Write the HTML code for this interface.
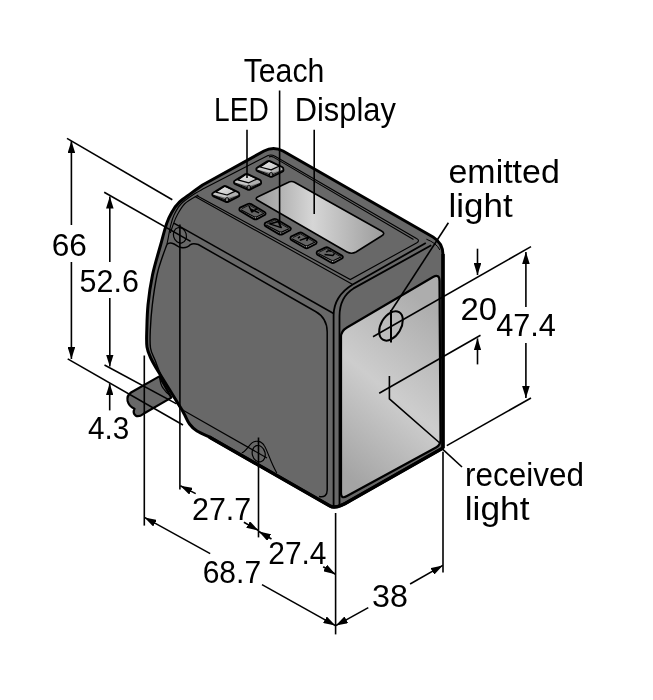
<!DOCTYPE html>
<html><head><meta charset="utf-8">
<style>
html,body{margin:0;padding:0;background:#fff;}
svg{display:block;will-change:transform;}
text{font-family:"Liberation Sans",sans-serif;fill:#000;}
</style></head>
<body>
<svg width="653" height="700" viewBox="0 0 653 700">
<defs>
  <linearGradient id="panel" gradientUnits="userSpaceOnUse" x1="330" y1="462" x2="446" y2="320">
    <stop offset="0" stop-color="#a4a4a4"/>
    <stop offset="0.5" stop-color="#cdcdcd"/>
    <stop offset="1" stop-color="#adadad"/>
  </linearGradient>
  <linearGradient id="disp" gradientUnits="userSpaceOnUse" x1="256" y1="0" x2="385" y2="0">
    <stop offset="0" stop-color="#999"/>
    <stop offset="0.44" stop-color="#d6d6d6"/>
    <stop offset="1" stop-color="#9b9b9b"/>
  </linearGradient>
  <linearGradient id="key" x1="0" y1="0" x2="1" y2="1">
    <stop offset="0" stop-color="#eeeeee"/>
    <stop offset="1" stop-color="#bdbdbd"/>
  </linearGradient>
  <marker id="ah" viewBox="0 0 12 7.6" refX="12" refY="3.8" markerWidth="12" markerHeight="7.6" markerUnits="userSpaceOnUse" orient="auto">
    <path d="M0,0 L12,3.8 L0,7.6 Z" fill="#000"/>
  </marker>
  <g id="led">
    <path d="M0,0.9 Q-0.3,-0.3 1,-1 L11,-7.2 Q12.6,-8.1 14.2,-7.3 L25.8,-1.6 Q27.2,-0.8 27.1,0.6 L27.1,1.9 Q27,2.6 26,3.1 L16.4,7.9 Q14.8,8.7 13.2,7.9 L1.3,2.7 Q0,2.1 0,0.9 Z" fill="#7a7a7a"/>
    <path d="M0.6,-0.6 L3.8,-1.6 L14.8,1.3 L14.8,4.3 L0.8,0.9 Z" fill="#c6c6c6"/>
    <path d="M14.8,1.3 L23.2,-2.6 L26.6,-0.9 L26.8,1.1 L14.8,4.3 Z" fill="#b0b0b0"/>
    <path d="M3.8,-1.6 L12.6,-7.4 L23.2,-2.6 L14.8,1.3 Z" fill="url(#key)" stroke="#000" stroke-width="1.2" stroke-linejoin="round"/>
    <path d="M1,1.5 L13.2,6.2 M16.4,6.2 L26.4,1.8 M13.2,4.6 Q14.8,3 16.4,4.6 L16.4,8.2 M13.2,4.6 L13.2,8.1" fill="none" stroke="#000" stroke-width="0.9"/>
    <path d="M0,0.9 Q-0.3,-0.3 1,-1 L11,-7.2 Q12.6,-8.1 14.2,-7.3 L25.8,-1.6 Q27.2,-0.8 27.1,0.6 L27.1,1.9 Q27,2.6 26,3.1 L16.4,7.9 Q14.8,8.7 13.2,7.9 L1.3,2.7 Q0,2.1 0,0.9 Z" fill="none" stroke="#000" stroke-width="1.8"/>
  </g>
  <g id="tb">
    <path d="M0.6,-1.6 L8.4,-5.2 Q10.1,-6 11.8,-5.1 L25.2,2.8 Q27,4 25.6,5.6 L18,9.7 Q16.1,10.8 14.2,9.7 L0.8,1.9 Q-0.8,0.6 0.6,-1.6 Z" fill="#8a8a8a"/>
    <path d="M0.6,-1.6 L8.4,-5.2 Q10.1,-6 11.8,-5.1 L25.2,2.8 Q26,3.3 24.6,4.2 L16,8.2 L1.4,0.4 Z" fill="#656565"/>
    <path d="M2.6,-0.6 L9.9,-4.2 L23.4,3.6" fill="none" stroke="#000" stroke-width="0.8"/>
    <path d="M1.4,0.6 L16,8.2 L24.8,4" fill="none" stroke="#000" stroke-width="1.1"/>
    <path d="M14.9,8 Q16,7.2 17.1,8 L17.1,10 L14.9,10 Z" fill="#b8b8b8" stroke="#000" stroke-width="0.8"/>
    <path d="M0.6,-1.6 L8.4,-5.2 Q10.1,-6 11.8,-5.1 L25.2,2.8 Q27,4 25.6,5.6 L18,9.7 Q16.1,10.8 14.2,9.7 L0.8,1.9 Q-0.8,0.6 0.6,-1.6 Z" fill="none" stroke="#000" stroke-width="1.8"/>
  </g>
</defs>

<!-- body silhouette -->
<path d="M264,151 Q273.5,146 283,151 L433,237 Q443,243 443,255 L443,448 L350,500.7 Q336,509.5 330,506 L209.2,436.9 C207.2,435.9 200.3,433.1 197.0,431.0 C193.7,428.9 191.6,426.8 189.5,424.0 C187.4,421.2 186.2,417.6 184.5,414.5 C182.8,411.4 183.6,412.5 179.3,405.5 C175.0,398.5 163.6,380.3 158.9,372.5 C154.2,364.7 153.0,362.8 151.0,358.5 C149.0,354.2 147.7,351.8 147.0,347.0 C146.3,342.2 146.6,337.0 146.8,330.0 C147.0,323.0 147.1,314.2 148.0,305.0 C148.9,295.8 150.4,285.0 152.5,275.0 C154.6,265.0 158.2,253.6 160.6,245.0 C162.9,236.4 164.8,229.0 166.6,223.6 C168.4,218.2 169.6,216.0 171.7,212.4 C173.8,208.8 176.2,205.3 179.4,202.2 C182.6,199.1 186.7,196.5 190.6,193.6 C194.5,190.7 200.6,186.4 202.6,185.0 L264,151 Z" fill="#686868"/>

<!-- right face light panel -->
<path d="M341,337 Q341,331 347,327.5 L433,277 Q439.5,273.5 439.5,281 L440.5,440 Q440.5,445 436,447.5 L347,496 Q341,499.5 341,493 Z" fill="url(#panel)" stroke="#000" stroke-width="2.2"/>

<!-- display -->
<path d="M258.5,196.5 Q254,198.5 258,200.5 L347,252 Q351.5,254.5 356,252 L381.5,236 Q386,233.5 381.5,231 L295,182.5 Q291.5,180.5 288,182.5 Z" fill="url(#disp)" stroke="#000" stroke-width="1.6"/>

<g fill="none" stroke="#000">
  <path d="M416.5,238.6 Q420.5,240.6 416.5,243 L350.3,279.5 L197,195.7 M416.5,238.6 L275,156.3 Q271.5,154.3 268,155.5 L204.3,188.3 C202.3,189.5 196.2,192.6 192.3,195.2 C188.4,197.8 184.1,200.7 181.0,204.0 C177.9,207.3 175.8,211.3 174.0,215.0 C172.2,218.7 171.4,222.7 170.5,226.2 C169.6,229.7 169.2,232.9 168.6,236.0 C168.0,239.1 167.2,243.1 166.9,244.5" stroke-width="1.1"/>
  <path d="M198.3,195.0 C196.1,196.4 188.6,200.1 185.0,203.5 C181.4,206.9 178.9,212.1 177.0,215.5 C175.1,218.9 174.5,221.1 173.4,224.0 C172.3,226.9 170.8,231.5 170.3,233.0" stroke-width="1.1"/>
  <path d="M269,157 Q271,155.8 273,156.9 L413.5,239.5 M352.3,284.2 L195,196.5" stroke-width="1.1"/>
    <!-- top face front-right edges -->
  <path d="M425.8,243 L352.3,284.7 Q334,296 333.6,315 L333.6,506" stroke-width="1.8"/>
  <path d="M431.3,245.3 L353.5,288.4 Q339.6,297 339.5,316 L339.5,506" stroke-width="1.8"/>
  <path d="M426.4,239.2 Q436.2,242.9 439.9,250" stroke-width="1"/>
  <!-- crease top-front -->
  <path d="M173.8,223.1 L333.6,313.5" stroke-width="1.5"/>
  <!-- front panel -->
  <path d="M166.9,244.5 C166.1,246.8 163.7,252.9 162.0,258.0 C160.3,263.1 158.6,267.2 157.0,275.0 C155.4,282.8 153.4,295.8 152.3,305.0 C151.2,314.2 150.6,322.8 150.3,330.0 C150.0,337.2 149.7,343.0 150.5,348.0 C151.3,353.0 153.2,355.5 155.0,360.0 C156.8,364.5 158.2,369.3 161.0,375.0 C163.8,380.7 168.8,388.4 172.0,394.0 C175.2,399.6 179.1,406.3 180.5,408.8" stroke-width="1.4"/>
  <path d="M166.9,244.5 C168,243.2 170,242.8 172,243.2 C176,244 177,247 181,247.6 C185,248.2 188,247.5 190.5,244.6 C192,243.5 195,243.4 198.3,244.5 L315.5,311.5 Q327.2,318 327.2,332 L327.2,490 Q327.2,498 319,496.5" stroke-width="1.5"/>
  <path d="M180.5,408.8 L267,458" stroke-width="1.1"/>
  <path d="M241.8,452.8 C246,451.5 249,445 252.3,442.6 C255.5,440.3 261.5,440.5 264.5,446 C268,452 270.5,462 276.8,473" stroke-width="1.1"/>
  <!-- body outer outline -->
  <path d="M264,151 Q273.5,146 283,151 L433,237 Q443,243 443,255 L443,448 L350,500.7 Q336,509.5 330,506 L209.2,436.9 C207.2,435.9 200.3,433.1 197.0,431.0 C193.7,428.9 191.6,426.8 189.5,424.0 C187.4,421.2 186.2,417.6 184.5,414.5 C182.8,411.4 183.6,412.5 179.3,405.5 C175.0,398.5 163.6,380.3 158.9,372.5 C154.2,364.7 153.0,362.8 151.0,358.5 C149.0,354.2 147.7,351.8 147.0,347.0 C146.3,342.2 146.6,337.0 146.8,330.0 C147.0,323.0 147.1,314.2 148.0,305.0 C148.9,295.8 150.4,285.0 152.5,275.0 C154.6,265.0 158.2,253.6 160.6,245.0 C162.9,236.4 164.8,229.0 166.6,223.6 C168.4,218.2 169.6,216.0 171.7,212.4 C173.8,208.8 176.2,205.3 179.4,202.2 C182.6,199.1 186.7,196.5 190.6,193.6 C194.5,190.7 200.6,186.4 202.6,185.0 L264,151 Z" stroke-width="3" stroke-linejoin="round"/>
  <path d="M443,448 L350,500.7 Q336,509.5 330,506 L209.2,436.9" stroke-width="3.4"/>
  <path d="M443,254 L443,448" stroke-width="3.4"/>
</g>

<!-- LED keys -->
<use href="#led" x="212.2" y="193.7"/>
<use href="#led" x="234.0" y="181.5"/>
<use href="#led" x="256.3" y="168.6"/>
<!-- teach buttons -->
<use href="#tb" x="239.4" y="209.2"/>
<use href="#tb" x="264.7" y="224.4"/>
<use href="#tb" x="290.5" y="238.1"/>
<use href="#tb" x="316.7" y="252.8"/>
<g fill="none" stroke="#000" stroke-width="1.5" stroke-linejoin="round">
  <path d="M249,206 L251.8,212 L257.3,208.7 M250.9,209.2 L259.1,212.9"/>
  <path d="M269.7,223.9 L278.4,221.6 L281.2,227.6 Z"/>
  <path d="M297.9,238.1 L300.1,236.7 M299.7,240.4 L308.4,237.2 L306.6,240.9"/>
  <path d="M326.3,252.3 Q328.2,249.8 330.9,251.4 M324.5,254.6 L332.8,255.6 L334.6,253.3"/>
</g>

<!-- screws -->
<g fill="none" stroke="#000" stroke-width="1.2">
  <ellipse cx="179.9" cy="235.3" rx="6.4" ry="7.8" transform="rotate(-15 179.9 235.3)"/>
  <ellipse cx="258.7" cy="453.7" rx="6.4" ry="8.3" transform="rotate(-15 258.7 453.7)"/>
</g>

<!-- connector -->
<path d="M131,392.5 L159.3,376.4 L171.4,397.6 L143.5,413.8 Q138.5,417.5 135.5,415.5 Q132.5,413 134.5,408.8 Q129,406.5 127.6,401 Q126.6,395.5 131,392.5 Z" fill="#686868" stroke="#000" stroke-width="2.2" stroke-linejoin="round"/>
<path d="M159.8,377 Q160,384 163,388 Q166,393 171,396" fill="none" stroke="#000" stroke-width="1.3"/>

<!-- dimension lines -->
<g stroke="#000" stroke-width="1.6" fill="none">
  <path d="M67,138.4 L172.3,199.7"/>
  <path d="M67.7,358.9 L183,425"/>
  <path d="M71.4,225 L71.4,141" marker-end="url(#ah)"/>
  <path d="M71.4,262 L71.4,359" marker-end="url(#ah)"/>
  <path d="M104.2,192.3 L190.6,241.4"/>
  <path d="M104.5,365 L176.6,403.9"/>
  <path d="M109.8,262 L109.8,196.5" marker-end="url(#ah)"/>
  <path d="M109.8,298 L109.8,366.5" marker-end="url(#ah)"/>
  <path d="M109.7,410.4 L109.7,383.4" marker-end="url(#ah)"/>
  <path d="M144.3,355.5 L144.3,525.6"/>
  <path d="M179.9,224.6 L179.9,489.5"/>
  <path d="M258.5,437.5 L258.5,537.4"/>
  <path d="M335.6,513 L335.6,634.4"/>
  <path d="M443,451.7 L443,572.4"/>
  <path d="M195.7,493.6 L180.3,485.8" marker-end="url(#ah)"/>
  <path d="M243.9,522.2 L258.5,530.5" marker-end="url(#ah)"/>
  <path d="M271.5,539 L258.9,531.5" marker-end="url(#ah)"/>
  <path d="M323.2,566.8 L335.4,574.2" marker-end="url(#ah)"/>
  <path d="M210.2,553.6 L144.5,517.4" marker-end="url(#ah)"/>
  <path d="M262,584.6 L335.4,625.6" marker-end="url(#ah)"/>
  <path d="M368.3,607.6 L335.8,625.6" marker-end="url(#ah)"/>
  <path d="M410.1,584 L442.8,565.4" marker-end="url(#ah)"/>
  <path d="M531,246.6 L373,336.8"/>
  <path d="M531,398 L446.8,445.6"/>
  <path d="M525.9,307 L525.9,252" marker-end="url(#ah)"/>
  <path d="M525.9,343 L525.9,398" marker-end="url(#ah)"/>
  <path d="M477.5,248.7 L477.5,275" marker-end="url(#ah)"/>
  <path d="M480.5,335.3 L379.2,393.2"/>
  <path d="M477.5,364.4 L477.5,338.4" marker-end="url(#ah)"/>
  <path d="M247,129.7 L247,178"/>
  <path d="M279.6,90.5 L279.6,225.6"/>
  <path d="M314.2,129.7 L314.2,214"/>
  <path d="M448.4,222.7 L390.3,312.3"/>
  <path d="M442,448.6 L462,467"/>
  <path d="M391,310 L391,342.5" stroke-width="2"/>
  <path d="M389.4,376 L389.4,398.8 L439.8,443"/>
</g>
<ellipse cx="391" cy="325.9" rx="10" ry="16" transform="rotate(30.4 391 325.9)" fill="none" stroke="#000" stroke-width="2"/>

<!-- labels -->
<text x="243.64" y="81.6" font-size="33" textLength="80.77" lengthAdjust="spacingAndGlyphs">Teach</text>
<text x="214.04" y="121.4" font-size="33" textLength="54.67" lengthAdjust="spacingAndGlyphs">LED</text>
<text x="294.75" y="121.4" font-size="33" textLength="101.06" lengthAdjust="spacingAndGlyphs">Display</text>
<text x="448.49" y="183.3" font-size="33" textLength="111.33" lengthAdjust="spacingAndGlyphs">emitted</text>
<text x="448.59" y="217.0" font-size="33" textLength="64.07" lengthAdjust="spacingAndGlyphs">light</text>
<text x="465.12" y="486.4" font-size="33" textLength="118.9" lengthAdjust="spacingAndGlyphs">received</text>
<text x="464.77" y="520.0" font-size="33" textLength="64.82" lengthAdjust="spacingAndGlyphs">light</text>
<text x="51.79" y="255.8" font-size="31" textLength="35.15" lengthAdjust="spacingAndGlyphs">66</text>
<text x="79.61" y="292.3" font-size="31" textLength="59.24" lengthAdjust="spacingAndGlyphs">52.6</text>
<text x="87.94" y="438.5" font-size="31" textLength="41.25" lengthAdjust="spacingAndGlyphs">4.3</text>
<text x="192.01" y="519.9" font-size="31" textLength="59.14" lengthAdjust="spacingAndGlyphs">27.7</text>
<text x="268.27" y="563.7" font-size="31" textLength="58.23" lengthAdjust="spacingAndGlyphs">27.4</text>
<text x="202.7" y="582.9" font-size="31" textLength="58.39" lengthAdjust="spacingAndGlyphs">68.7</text>
<text x="372.11" y="607.3" font-size="31" textLength="35.89" lengthAdjust="spacingAndGlyphs">38</text>
<text x="460.6" y="320.2" font-size="31" textLength="36.55" lengthAdjust="spacingAndGlyphs">20</text>
<text x="496.2" y="336.4" font-size="31" textLength="59.74" lengthAdjust="spacingAndGlyphs">47.4</text>
</svg>
</body></html>
